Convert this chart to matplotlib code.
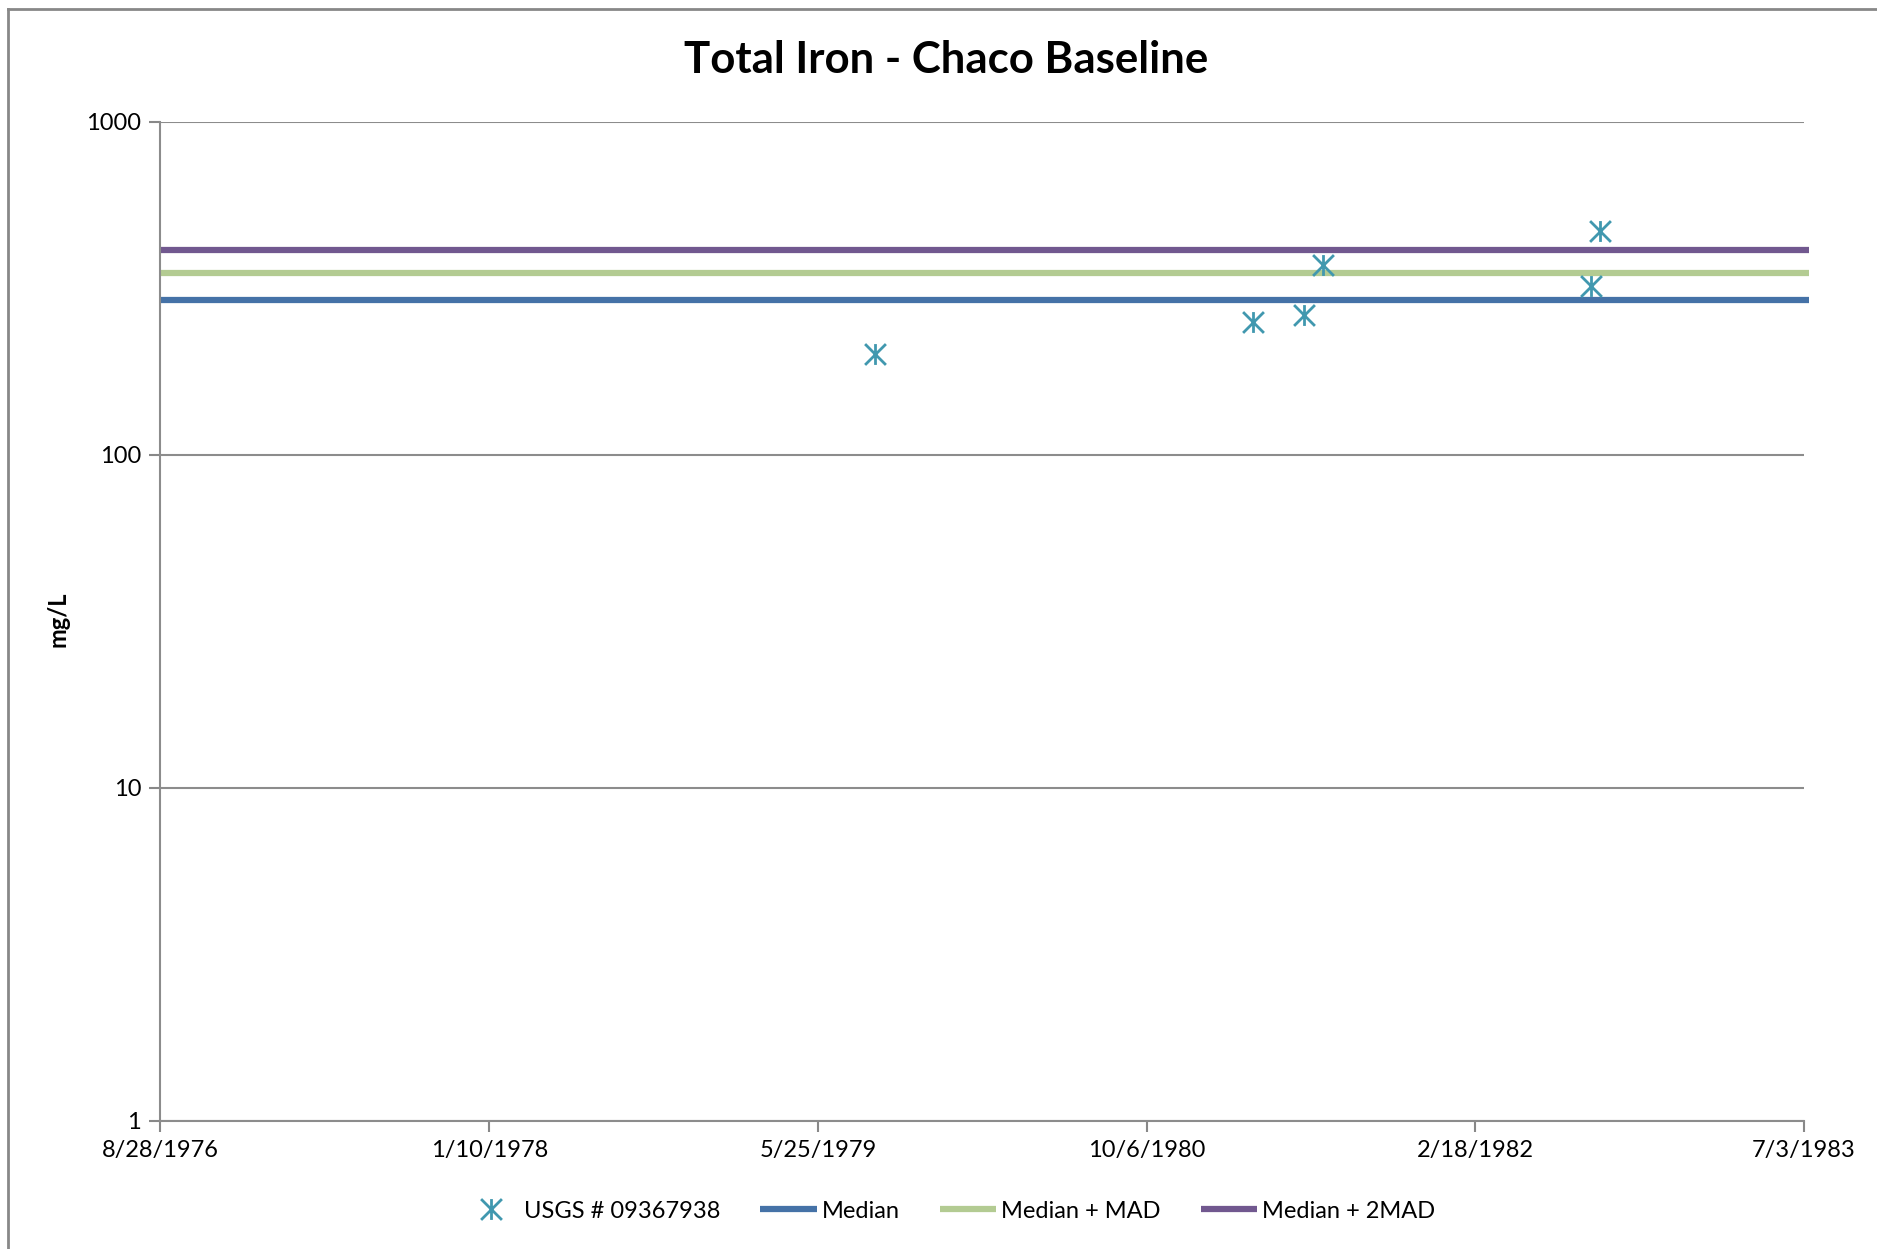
import numpy as np
import matplotlib
matplotlib.use("Agg")
import matplotlib.pyplot as plt
import matplotlib.dates as mdates
from matplotlib.path import Path
from matplotlib.lines import Line2D
from datetime import date, timedelta

# sample data
sample_dates = [date(1979, 8, 20), date(1981, 3, 17), date(1981, 6, 2),
                date(1981, 7, 1), date(1982, 8, 13), date(1982, 8, 26)]
iron = [200, 251, 262, 371, 322, 471]

# reference lines
median = 292
median_mad = 352
median_2mad = 412

x_start = date(1976, 8, 28)
x_ticks = [x_start + timedelta(days=500 * i) for i in range(6)]
x_end = x_ticks[-1]
tick_labels = [f"{d.month}/{d.day}/{d.year}" for d in x_ticks]

plt.rcParams['font.family'] = ['Lato', 'DejaVu Sans']

# asterisk marker: vertical bar plus an X
star = Path([(0, -1), (0, 1), (-1, -1), (1, 1), (-1, 1), (1, -1)],
            [Path.MOVETO, Path.LINETO, Path.MOVETO, Path.LINETO, Path.MOVETO, Path.LINETO])

fig = plt.figure(figsize=(18.77, 12.49), dpi=100)
ax = fig.add_axes([0.0855, 0.1027, 0.8756, 0.7999])

ax.set_yscale('log')
ax.set_ylim(1, 1000)
ax.set_xlim(mdates.date2num(x_start), mdates.date2num(x_end))

line_end = mdates.date2num(x_end) + 8
xs = [mdates.date2num(x_start), line_end]
ax.plot(xs, [median] * 2, color='#4572A7', lw=4.5, label='Median', clip_on=False, solid_capstyle='butt')
ax.plot(xs, [median_mad] * 2, color='#B3CB92', lw=4.5, label='Median + MAD', clip_on=False, solid_capstyle='butt')
ax.plot(xs, [median_2mad] * 2, color='#71588F', lw=4.5, label='Median + 2MAD', clip_on=False, solid_capstyle='butt')
ax.plot(mdates.date2num(sample_dates), iron, ls='none', marker=star, ms=15, mew=2,
        color='#4198AF', label='USGS # 09367938', zorder=5)

ax.set_xticks(mdates.date2num(x_ticks))
ax.set_xticklabels(tick_labels)
ax.set_yticks([1, 10, 100, 1000])
ax.set_yticklabels(['1', '10', '100', '1000'])
ax.yaxis.set_minor_locator(matplotlib.ticker.NullLocator())
ax.tick_params(axis='both', labelsize=17, length=8, width=1.5, color='#888888', pad=6)
ax.grid(axis='y', color='#8c8c8c', lw=1.5)
ax.set_axisbelow(True)
for s in ['top', 'right']:
    ax.spines[s].set_visible(False)
for s in ['left', 'bottom']:
    ax.spines[s].set_color('#8c8c8c')
    ax.spines[s].set_linewidth(1.5)

fig.text(0.504, 0.952, 'Total Iron - Chaco Baseline', ha='center', va='center',
         fontsize=31.5, fontweight='bold')
fig.text(0.031, 0.504, 'mg/L', rotation=90, ha='center', va='center',
         fontsize=17, fontweight='bold')

handles, labels = ax.get_legend_handles_labels()
order = [3, 0, 1, 2]
fig.legend([handles[i] for i in order], [labels[i] for i in order],
           loc='center', bbox_to_anchor=(0.5055, 0.0304), ncol=4, frameon=False,
           fontsize=17, handlelength=2.4, handletextpad=0.2, columnspacing=1.7)

# outer chart frame (left and top edges visible)
fig.add_artist(Line2D([0.0045, 0.0045], [0, 0.993], color='#888888', lw=2))
fig.add_artist(Line2D([0.0045, 1], [0.993, 0.993], color='#888888', lw=2))

fig.savefig('out.png', dpi=100)
